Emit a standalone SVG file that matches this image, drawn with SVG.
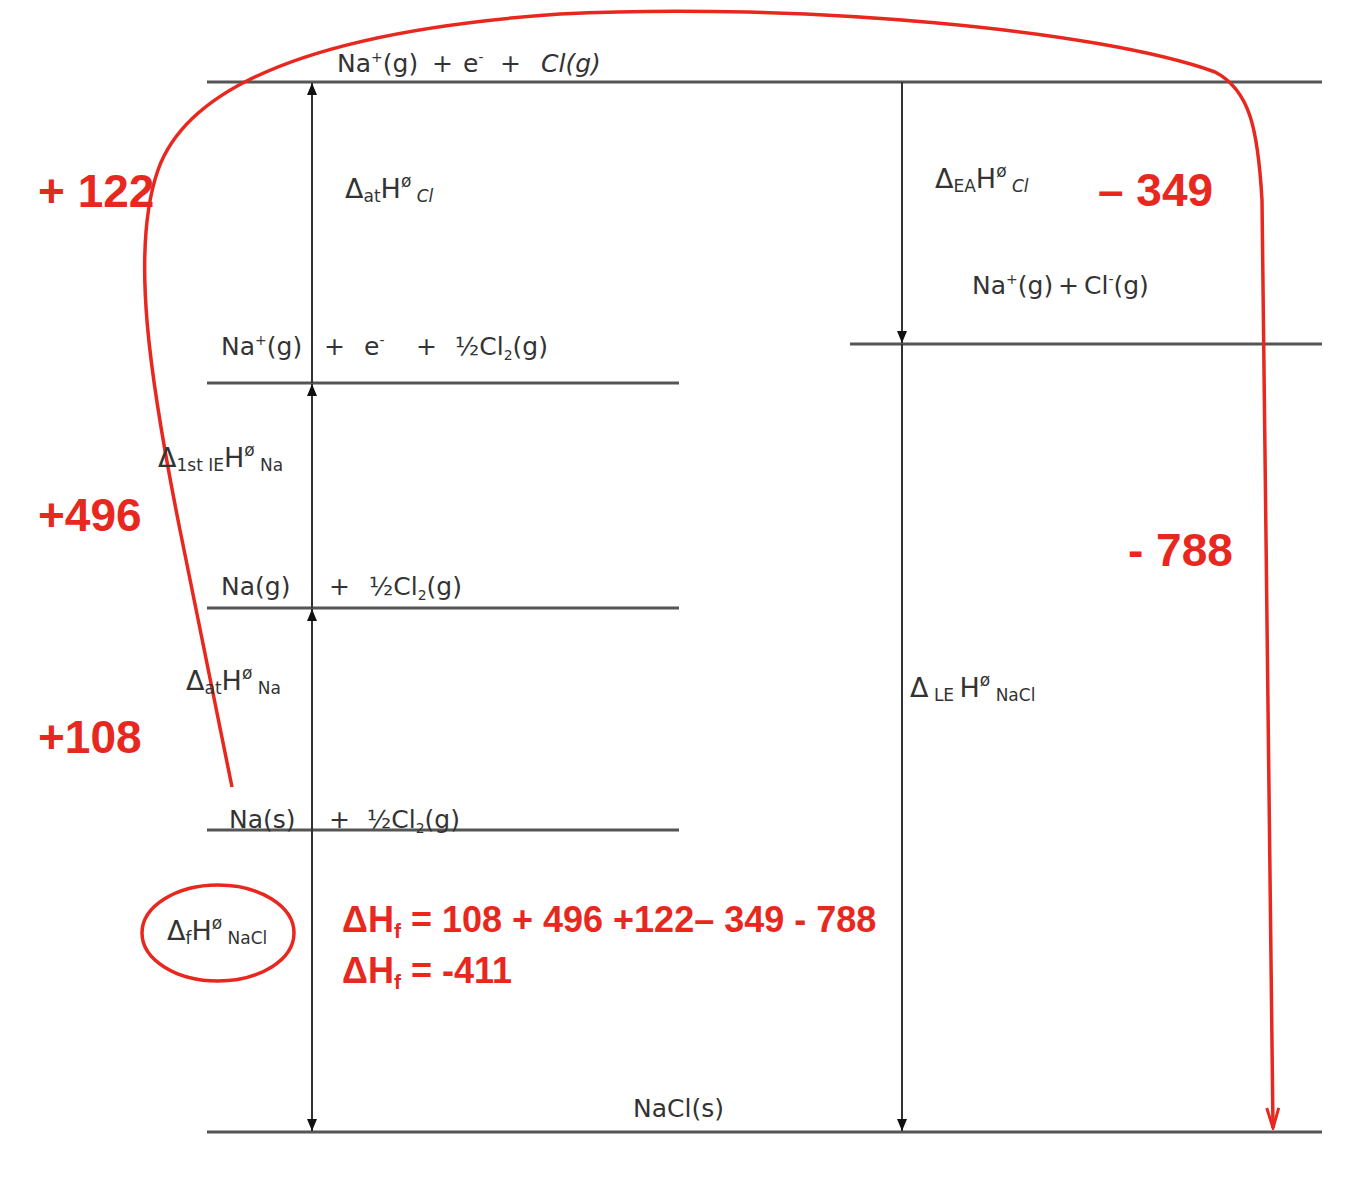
<svg xmlns="http://www.w3.org/2000/svg" width="1372" height="1200" viewBox="0 0 1372 1200">
<style>
.lvl{stroke:#555;stroke-width:3;fill:none}
.ax{stroke:#333;stroke-width:2;fill:none}
.lb{font-family:"DejaVu Sans","Liberation Sans",sans-serif;font-size:25px;fill:#333}
.sm{font-size:14px}
.dl{font-family:"DejaVu Sans","Liberation Sans",sans-serif;font-size:27px;fill:#333}
.ds{font-size:17px}
.rd{font-family:"Liberation Sans",Arial,sans-serif;font-weight:bold;fill:#e8281e}
</style>
<defs>
<marker id="ah" viewBox="0 0 12 10" refX="12" refY="5" markerWidth="12" markerHeight="10" markerUnits="userSpaceOnUse" orient="auto">
<path d="M0,0 L12,5 L0,10 Z" fill="#111"/>
</marker>
<marker id="rah" viewBox="0 0 24 16" refX="22" refY="8" markerWidth="24" markerHeight="16" markerUnits="userSpaceOnUse" orient="auto">
<path d="M2,2 L22,8 L2,14" fill="none" stroke="#e8281e" stroke-width="3"/>
</marker>
</defs>
<rect width="1372" height="1200" fill="#fff"/>
<g id="levels">
<line class="lvl" x1="207" y1="82" x2="1322" y2="82"/>
<line class="lvl" x1="207" y1="383" x2="679" y2="383"/>
<line class="lvl" x1="850" y1="344" x2="1322" y2="344"/>
<line class="lvl" x1="207" y1="608" x2="679" y2="608"/>
<line class="lvl" x1="207" y1="830" x2="679" y2="830"/>
<line class="lvl" x1="207" y1="1132" x2="1322" y2="1132"/>
</g>
<g id="connectors">
<line class="ax" x1="312" y1="383" x2="312" y2="83" marker-end="url(#ah)"/>
<line class="ax" x1="312" y1="608" x2="312" y2="384" marker-end="url(#ah)"/>
<line class="ax" x1="312" y1="830" x2="312" y2="609" marker-end="url(#ah)"/>
<line class="ax" x1="312" y1="830" x2="312" y2="1131" marker-end="url(#ah)"/>
<line class="ax" x1="902" y1="82" x2="902" y2="343" marker-end="url(#ah)"/>
<line class="ax" x1="902" y1="344" x2="902" y2="1131" marker-end="url(#ah)"/>
<path d="M232,787 L180,530 C150,380 130,250 158,170 C190,80 330,30 560,14 C800,2 1100,30 1215,72 C1250,90 1258,130 1262,200 L1273,1128" fill="none" stroke="#e8281e" stroke-width="3.5" marker-end="url(#rah)"/>
</g>
<g id="n-top">
<text class="lb" x="337" y="72">Na<tspan class="sm" dy="-10">+</tspan><tspan dy="10">(g)</tspan></text>
<text class="lb" x="432" y="72">+</text>
<text class="lb" x="463" y="72">e<tspan class="sm" dy="-10">-</tspan></text>
<text class="lb" x="500" y="72">+</text>
<text class="lb" x="541" y="72" font-style="italic">Cl(g)</text>
</g>
<g id="n-atcl"><text class="dl" x="345" y="198">Δ<tspan class="ds" dy="4">at</tspan><tspan dy="-4">H</tspan><tspan class="ds" dy="-11">ø</tspan><tspan class="ds" dy="15" font-style="italic"> Cl</tspan></text></g>
<g id="n-eacl"><text class="dl" x="935" y="188">Δ<tspan class="ds" dy="4">EA</tspan><tspan dy="-4">H</tspan><tspan class="ds" dy="-11">ø</tspan><tspan class="ds" dy="15" font-style="italic"> Cl</tspan></text></g>
<g id="n-ions">
<text class="lb" x="972" y="294">Na<tspan class="sm" dy="-10">+</tspan><tspan dy="10">(g)</tspan></text>
<text class="lb" x="1058" y="294">+</text>
<text class="lb" x="1084" y="294">Cl<tspan class="sm" dy="-10">-</tspan><tspan dy="10">(g)</tspan></text>
</g>
<g id="n-naplus">
<text class="lb" x="221" y="355">Na<tspan class="sm" dy="-10">+</tspan><tspan dy="10">(g)</tspan></text>
<text class="lb" x="324" y="355">+</text>
<text class="lb" x="364" y="355">e<tspan class="sm" dy="-10">-</tspan></text>
<text class="lb" x="416" y="355">+</text>
<text class="lb" x="455" y="355">½Cl<tspan class="sm" dy="5">2</tspan><tspan dy="-5">(g)</tspan></text>
</g>
<g id="n-ie"><text class="dl" x="158" y="467">Δ<tspan class="ds" dy="4">1st IE</tspan><tspan dy="-4">H</tspan><tspan class="ds" dy="-11">ø</tspan><tspan class="ds" dy="15">  Na</tspan></text></g>
<g id="n-nag">
<text class="lb" x="221" y="595">Na(g)</text>
<text class="lb" x="329" y="595">+</text>
<text class="lb" x="369" y="595">½Cl<tspan class="sm" dy="5">2</tspan><tspan dy="-5">(g)</tspan></text>
</g>
<g id="n-atna"><text class="dl" x="186" y="690">Δ<tspan class="ds" dy="4">at</tspan><tspan dy="-4">H</tspan><tspan class="ds" dy="-11">ø</tspan><tspan class="ds" dy="15"> Na</tspan></text></g>
<g id="n-le"><text class="dl" x="910" y="697">Δ<tspan class="ds" dy="4"> LE </tspan><tspan dy="-4">H</tspan><tspan class="ds" dy="-11">ø</tspan><tspan class="ds" dy="15"> NaCl</tspan></text></g>
<g id="n-nas">
<text class="lb" x="229" y="828">Na(s)</text>
<text class="lb" x="329" y="828">+</text>
<text class="lb" x="367" y="828">½Cl<tspan class="sm" dy="5">2</tspan><tspan dy="-5">(g)</tspan></text>
</g>
<g id="n-f"><ellipse cx="218" cy="933" rx="76" ry="48" fill="none" stroke="#e8281e" stroke-width="3.5"/><text class="dl" x="167" y="940" font-size="25">Δ<tspan class="ds" dy="4" font-size="15">f</tspan><tspan dy="-4">H</tspan><tspan class="ds" dy="-11" font-size="15">ø</tspan><tspan class="ds" dy="15" font-size="15"> NaCl</tspan></text></g>
<g id="n-nacl"><text class="lb" x="633" y="1117" font-size="26">NaCl(s)</text></g>
<g id="values">
<text class="rd" x="38" y="207" font-size="46">+ 122</text>
<text class="rd" x="38" y="531" font-size="46">+496</text>
<text class="rd" x="38" y="753" font-size="46">+108</text>
<text class="rd" x="1098" y="206" font-size="46">– 349</text>
<text class="rd" x="1128" y="566" font-size="46">- 788</text>
<text class="rd" x="342" y="932" font-size="36">ΔH<tspan font-size="21" dy="6">f</tspan><tspan dy="-6"> = 108 + 496 +122– 349 - 788</tspan></text>
<text class="rd" x="342" y="983" font-size="36">ΔH<tspan font-size="21" dy="6">f</tspan><tspan dy="-6"> = -411</tspan></text>
</g>
</svg>
